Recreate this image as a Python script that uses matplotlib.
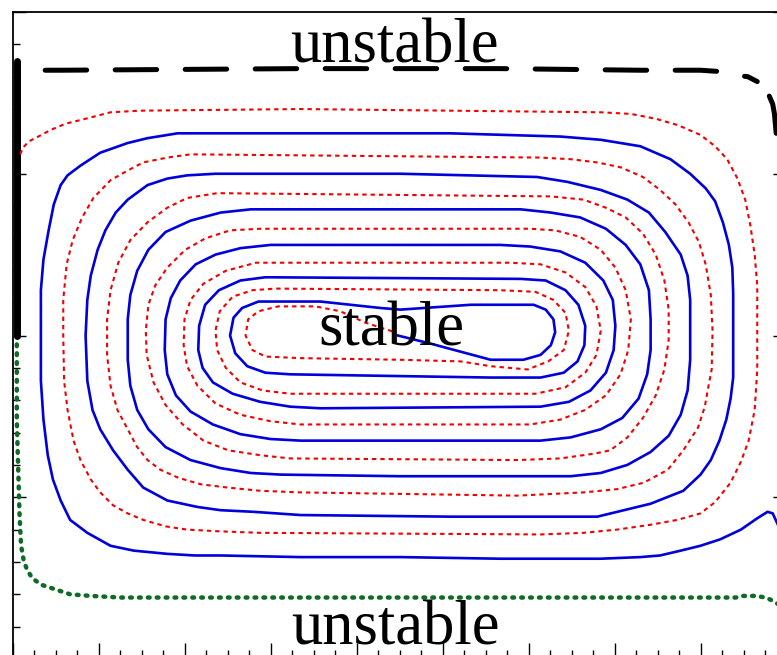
import matplotlib
matplotlib.use("Agg")
import matplotlib.pyplot as plt
from matplotlib.ticker import MultipleLocator

# ---------------- data ----------------
# blue solid trajectory (spirals inward to the stable point)
blue_x = [8.90, 8.84, 8.78, 8.66, 8.47, 8.23, 8.00, 7.77, 7.53, 7.30, 6.84, 5.67, 4.51, 3.35, 2.42, 2.12,
          1.80, 1.41, 1.14, 0.87, 0.67, 0.56, 0.47, 0.41, 0.36, 0.33, 0.33, 0.33, 0.36, 0.42, 0.48, 0.56,
          0.64, 0.79, 1.02, 1.34, 1.57, 1.92, 3.35, 5.09, 6.37, 6.84, 7.30, 7.65, 7.88, 8.06, 8.17, 8.26,
          8.33, 8.37, 8.38, 8.38, 8.38, 8.35, 8.30, 8.22, 8.12, 8.00, 7.80, 7.42, 7.03, 6.80, 5.09, 3.35,
          2.80, 2.42, 2.15, 1.80, 1.52, 1.34, 1.17, 1.02, 0.93, 0.87, 0.85, 0.87, 0.91, 0.99, 1.08, 1.20,
          1.34, 1.57, 1.80, 2.03, 2.36, 4.51, 6.10, 6.45, 6.84, 7.15, 7.40, 7.59, 7.77, 7.85, 7.88, 7.88,
          7.85, 7.77, 7.63, 7.42, 7.15, 6.84, 6.49, 4.51, 3.12, 2.77, 2.42, 2.07, 1.78, 1.58, 1.45, 1.37,
          1.34, 1.34, 1.37, 1.45, 1.58, 1.78, 2.07, 2.42, 2.77, 5.91, 6.26, 6.60, 6.90, 7.13, 7.30, 7.40,
          7.42, 7.42, 7.38, 7.28, 7.09, 6.84, 6.49, 6.14, 3.35, 3.00, 2.65, 2.33, 2.07, 1.90, 1.80, 1.77,
          1.78, 1.84, 1.95, 2.13, 2.36, 2.65, 3.00, 5.67, 6.02, 6.37, 6.66, 6.87, 6.98, 7.01, 6.99, 6.90,
          6.72, 6.47, 6.14, 3.58, 3.23, 2.88, 2.56, 2.33, 2.21, 2.16, 2.17, 2.24, 2.40, 2.65, 2.94, 5.91,
          6.20, 6.43, 6.58, 6.66, 6.65, 6.57, 6.41, 6.14, 5.56, 3.23, 2.94, 2.73, 2.59, 2.53, 2.57, 2.67,
          2.86, 3.58, 4.28, 4.51, 5.33, 6.06, 6.20, 6.29, 6.31, 6.26, 6.14, 5.94, 5.56, 5.21, 4.86, 4.48]
blue_y = [0.83, 0.90, 0.91, 0.87, 0.80, 0.74, 0.70, 0.67, 0.64, 0.63, 0.62, 0.62, 0.63, 0.63, 0.64, 0.64,
          0.65, 0.67, 0.70, 0.78, 0.86, 0.98, 1.11, 1.26, 1.48, 1.72, 2.00, 2.28, 2.47, 2.65, 2.81, 2.93,
          2.99, 3.05, 3.13, 3.19, 3.22, 3.25, 3.25, 3.25, 3.23, 3.21, 3.17, 3.09, 3.00, 2.91, 2.83, 2.70,
          2.56, 2.42, 2.26, 1.91, 1.74, 1.61, 1.48, 1.35, 1.23, 1.14, 1.04, 0.96, 0.91, 0.88, 0.88, 0.89,
          0.91, 0.92, 0.94, 0.98, 1.06, 1.17, 1.29, 1.42, 1.54, 1.72, 2.00, 2.22, 2.37, 2.53, 2.65, 2.76,
          2.84, 2.93, 2.97, 2.99, 3.00, 3.00, 2.98, 2.95, 2.90, 2.84, 2.76, 2.64, 2.50, 2.37, 2.22, 1.85,
          1.66, 1.51, 1.38, 1.28, 1.20, 1.15, 1.13, 1.13, 1.14, 1.15, 1.18, 1.23, 1.31, 1.42, 1.54, 1.69,
          1.85, 2.10, 2.25, 2.40, 2.53, 2.64, 2.71, 2.76, 2.78, 2.78, 2.76, 2.73, 2.66, 2.56, 2.44, 2.28,
          2.10, 1.91, 1.76, 1.61, 1.49, 1.42, 1.37, 1.35, 1.35, 1.36, 1.39, 1.45, 1.53, 1.63, 1.76, 1.91,
          2.10, 2.23, 2.34, 2.44, 2.50, 2.54, 2.56, 2.56, 2.55, 2.52, 2.45, 2.34, 2.22, 2.06, 1.91, 1.77,
          1.66, 1.59, 1.56, 1.55, 1.56, 1.59, 1.64, 1.71, 1.80, 1.91, 2.06, 2.19, 2.28, 2.34, 2.36, 2.35,
          2.34, 2.28, 2.19, 2.06, 1.94, 1.84, 1.77, 1.74, 1.74, 1.76, 1.77, 1.81, 1.89, 2.00, 2.11, 2.17,
          2.21, 2.21, 2.17, 2.16, 2.19, 2.19, 2.16, 2.10, 2.02, 1.94, 1.88, 1.85, 1.85, 1.90, 1.95, 2.00]

# red dotted trajectory (spirals inward to the stable point)
red_x = [0.09, 0.12, 0.19, 0.30, 0.44, 0.62, 0.85, 1.14, 1.49, 3.35, 5.09, 6.84, 7.19, 7.48, 7.74, 8.00,
         8.17, 8.31, 8.43, 8.52, 8.58, 8.63, 8.66, 8.66, 8.63, 8.56, 8.47, 8.35, 8.17, 8.00, 7.73, 7.42,
         7.03, 6.64, 6.14, 2.88, 2.38, 2.03, 1.78, 1.52, 1.34, 1.17, 1.02, 0.91, 0.79, 0.71, 0.64, 0.60,
         0.59, 0.59, 0.63, 0.70, 0.81, 0.94, 1.14, 1.34, 1.52, 1.80, 2.07, 6.14, 6.49, 6.80, 7.07, 7.33,
         7.53, 7.71, 7.86, 7.98, 8.06, 8.12, 8.14, 8.13, 8.09, 8.05, 7.97, 7.80, 7.62, 7.34, 7.03, 6.64,
         5.87, 3.35, 2.88, 2.50, 2.19, 1.93, 1.72, 1.57, 1.45, 1.34, 1.22, 1.14, 1.10, 1.10, 1.14, 1.23,
         1.37, 1.57, 1.80, 2.03, 2.38, 6.26, 6.64, 6.90, 7.13, 7.33, 7.48, 7.58, 7.63, 7.63, 7.58, 7.48,
         7.33, 7.15, 6.95, 6.77, 6.37, 5.87, 3.23, 2.88, 2.51, 2.22, 1.98, 1.78, 1.64, 1.56, 1.55, 1.58,
         1.66, 1.80, 2.01, 2.24, 2.53, 2.88, 6.02, 6.31, 6.60, 6.84, 7.01, 7.13, 7.19, 7.16, 7.07, 6.90,
         6.66, 6.37, 6.02, 3.35, 3.00, 2.65, 2.36, 2.15, 2.03, 1.99, 2.00, 2.07, 2.22, 2.48, 2.83, 5.79,
         6.14, 6.43, 6.66, 6.79, 6.84, 6.79, 6.66, 6.43, 6.08, 3.23, 2.91, 2.65, 2.48, 2.38, 2.36, 2.41,
         2.56, 2.79, 3.06, 5.67, 6.08, 6.29, 6.43, 6.47, 6.41, 6.23, 5.99, 5.56, 5.21, 4.51, 3.35, 2.94,
         2.79, 2.71, 2.74, 2.86, 3.09, 3.52, 3.81, 4.10, 4.45]
red_y = [3.12, 3.16, 3.20, 3.23, 3.27, 3.31, 3.34, 3.38, 3.39, 3.40, 3.39, 3.38, 3.37, 3.34, 3.30, 3.24,
         3.17, 3.09, 2.97, 2.84, 2.68, 2.50, 2.31, 1.79, 1.54, 1.35, 1.22, 1.09, 0.97, 0.90, 0.86, 0.83,
         0.80, 0.78, 0.77, 0.78, 0.79, 0.80, 0.82, 0.86, 0.90, 0.95, 1.03, 1.11, 1.23, 1.35, 1.54, 1.72,
         2.00, 2.22, 2.44, 2.59, 2.73, 2.85, 2.96, 3.02, 3.07, 3.10, 3.12, 3.10, 3.09, 3.07, 3.04, 2.98,
         2.90, 2.81, 2.70, 2.58, 2.44, 2.25, 2.03, 1.79, 1.68, 1.56, 1.43, 1.29, 1.17, 1.09, 1.05, 1.03,
         1.01, 1.03, 1.04, 1.06, 1.08, 1.12, 1.17, 1.23, 1.31, 1.42, 1.54, 1.69, 1.88, 2.10, 2.28, 2.45,
         2.59, 2.70, 2.79, 2.85, 2.88, 2.86, 2.84, 2.79, 2.73, 2.63, 2.50, 2.34, 2.16, 1.97, 1.79, 1.63,
         1.49, 1.37, 1.29, 1.27, 1.24, 1.23, 1.24, 1.26, 1.29, 1.35, 1.45, 1.57, 1.71, 1.88, 2.03, 2.19,
         2.31, 2.42, 2.53, 2.60, 2.65, 2.66, 2.66, 2.65, 2.61, 2.53, 2.42, 2.28, 2.10, 1.91, 1.76, 1.63,
         1.54, 1.48, 1.45, 1.45, 1.47, 1.51, 1.58, 1.69, 1.81, 1.94, 2.10, 2.22, 2.32, 2.40, 2.45, 2.45,
         2.44, 2.39, 2.30, 2.18, 2.03, 1.88, 1.77, 1.68, 1.64, 1.64, 1.66, 1.71, 1.80, 1.91, 2.03, 2.15,
         2.24, 2.28, 2.29, 2.28, 2.27, 2.22, 2.14, 2.03, 1.91, 1.84, 1.79, 1.81, 1.84, 1.85, 1.86, 1.87,
         1.91, 2.00, 2.10, 2.15, 2.18, 2.18, 2.15, 2.08, 2.02]

# green dotted lower boundary
green_x = [0.05, 0.05, 0.05, 0.06, 0.07, 0.08, 0.09, 0.10, 0.13, 0.17, 0.23, 0.33, 0.50, 0.67, 0.91,
           1.26, 1.43, 3.35, 5.67, 8.41, 8.49, 8.64, 8.76, 8.84, 8.90]
green_y = [2.00, 1.72, 1.48, 1.29, 1.11, 0.92, 0.80, 0.70, 0.61, 0.55, 0.50, 0.46, 0.43, 0.40, 0.39,
           0.38, 0.38, 0.38, 0.38, 0.38, 0.39, 0.39, 0.38, 0.36, 0.34]

# black boundaries: solid wall on the left, dashed line at the top, solid drop at the right
wall_x = [0.05, 0.05]
wall_y = [3.70, 2.00]
dash_x = [0.38, 0.56, 3.35, 5.67, 7.30, 8.00, 8.28, 8.40, 8.55, 8.66]
dash_y = [3.64, 3.64, 3.65, 3.65, 3.64, 3.64, 3.63, 3.61, 3.60, 3.57]
drop_x = [8.80, 8.84, 8.86, 8.88]
drop_y = [3.48, 3.43, 3.37, 3.25]

# region labels
labels = ["unstable", "stable", "unstable"]
label_x = [4.44, 4.40, 4.45]
label_y = [3.69, 1.94, 0.09]

# ---------------- figure ----------------
fig = plt.figure(figsize=(7.77, 6.55), dpi=100)
ax = fig.add_axes([12.5 / 777, -4 / 655, 765.4 / 777, 647 / 655])
ax.set_xlim(0, 8.9)
ax.set_ylim(0, 4)

ax.plot(green_x, green_y, color="#0d6b25", lw=3.2, dashes=(0.4, 1.6),
        dash_capstyle="round", zorder=2)
ax.plot(wall_x, wall_y, color="black", lw=5.0, solid_capstyle="round", zorder=3)
ax.plot(dash_x, dash_y, color="black", lw=3.6, dashes=(8.3, 5.7),
        dash_capstyle="round", zorder=3)
ax.plot(drop_x, drop_y, color="black", lw=3.6, solid_capstyle="round", zorder=3)
ax.plot(red_x, red_y, color="#f00000", lw=1.5, dashes=(2.1, 1.9), zorder=4)
ax.plot(blue_x, blue_y, color="#0000dd", lw=1.9, zorder=5)

for t, x, y in zip(labels, label_x, label_y):
    ax.text(x, y, t, ha="center", va="baseline", fontsize=45,
            family=["Liberation Serif", "DejaVu Serif"], color="black", zorder=6)

ax.xaxis.set_major_locator(MultipleLocator(1))
ax.xaxis.set_minor_locator(MultipleLocator(0.25))
ax.yaxis.set_major_locator(MultipleLocator(1))
ax.yaxis.set_minor_locator(MultipleLocator(0.2))
ax.tick_params(which="both", direction="in", labelbottom=False, labelleft=False,
               top=False, right=False, color="black")
ax.tick_params(axis="x", which="major", length=11.5, width=1.0)
ax.tick_params(axis="x", which="minor", length=6.8, width=1.0)
ax.tick_params(axis="y", which="major", length=9.4, width=1.0)
ax.tick_params(axis="y", which="minor", length=4.7, width=1.0)
for s in ax.spines.values():
    s.set_linewidth(1.3)

sec = ax.secondary_yaxis("right")
sec.yaxis.set_major_locator(MultipleLocator(1))
sec.tick_params(direction="in", length=3.6, width=1.0, labelright=False)
sec.yaxis.set_minor_locator(MultipleLocator(10))

fig.savefig("out.png", dpi=100)
